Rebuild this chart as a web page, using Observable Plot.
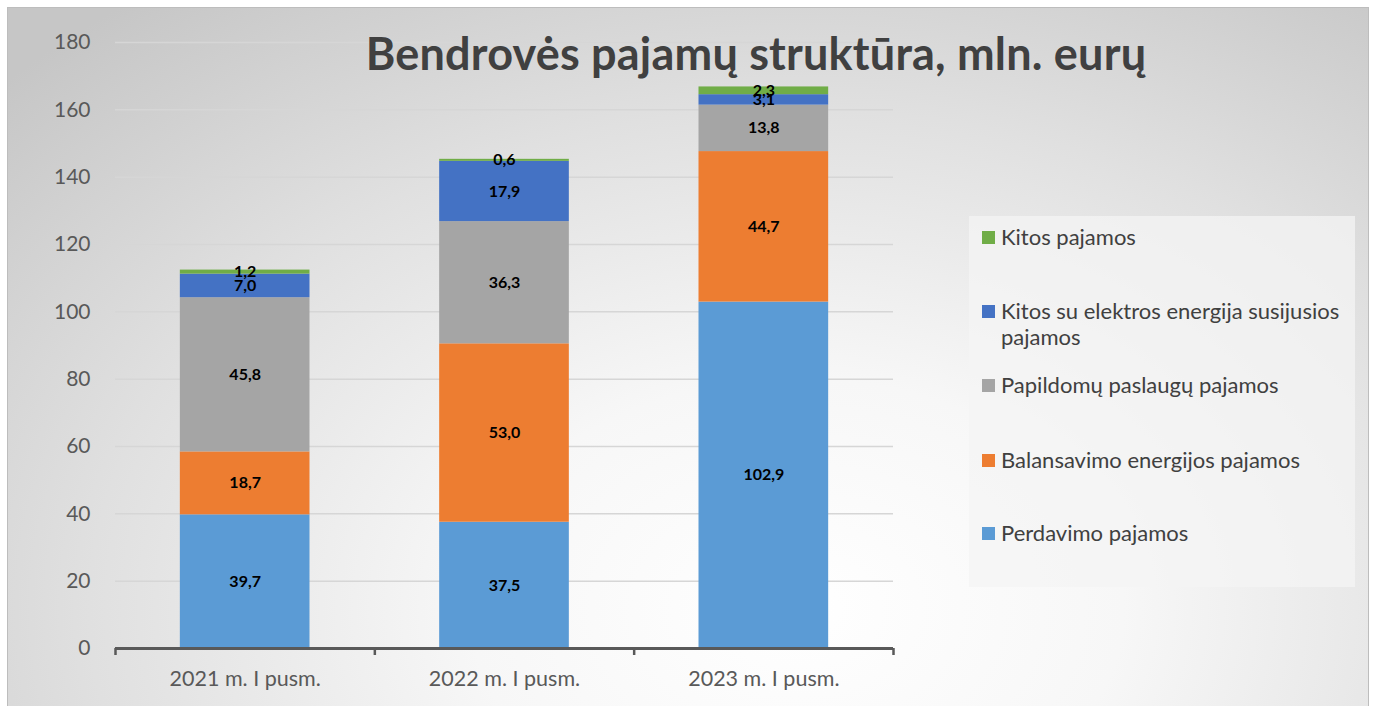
<!DOCTYPE html>
<html>
<head>
<meta charset="utf-8">
<script src="https://cdn.jsdelivr.net/npm/d3@7"></script>
<script src="https://cdn.jsdelivr.net/npm/@observablehq/plot@0.6"></script>
<style>
  html, body { margin: 0; padding: 0; background: #ffffff; }
  #wrap {
    position: absolute; left: 7px; top: 7px; width: 1360px; height: 699px;
    border: 1px solid #bdbdbd; border-bottom: none;
    background: radial-gradient(ellipse 80% 110% at 58% 86%, #ffffff 0%, #f7f7f7 30%, #e0e0e0 65%, #c6c6c6 100%);
    overflow: hidden;
    font-family: Lato, "Open Sans", sans-serif;
  }
  #chart { position: absolute; left: -8px; top: -8px; }
  #chart svg { max-width: none !important; }
  #title {
    position: absolute; left: 0; width: 1496px; top: 18px; text-align: center;
    font-size: 45px; font-weight: 700; color: #404040; letter-spacing: 0.2px;
  }
  #legend {
    position: absolute; left: 961px; top: 208px; width: 386px; height: 371px;
    background: rgba(244,244,244,0.75);
  }
  .li { position: absolute; left: 13px; font-size: 22px; color: #404040; line-height: 26px; }
  .li .sw { position: absolute; left: 0; top: 7px; width: 13px; height: 13px; }
  .li .tx { position: absolute; left: 19px; white-space: nowrap; }
</style>
</head>
<body>
<div id="wrap">
  <div id="chart"></div>
  <div id="title"></div>
  <div id="legend"></div>
</div>
<script>
const categories = ["2021 m. I pusm.", "2022 m. I pusm.", "2023 m. I pusm."];
const series = ["Perdavimo pajamos", "Balansavimo energijos pajamos", "Papildomų paslaugų pajamos", "Kitos su elektros energija susijusios pajamos", "Kitos pajamos"];
const colors = ["#5b9bd5", "#ed7d31", "#a5a5a5", "#4472c4", "#70ad47"];
const perdavimo   = [39.7, 37.5, 102.9];
const balansavimo = [18.7, 53.0, 44.7];
const papildomu   = [45.8, 36.3, 13.8];
const kitosElektr = [7.0, 17.9, 3.1];
const kitos       = [1.2, 0.6, 2.3];
const yTicks = [0, 20, 40, 60, 80, 100, 120, 140, 160, 180];
const titleText = "Bendrovės pajamų struktūra, mln. eurų";

const seriesValues = [perdavimo, balansavimo, papildomu, kitosElektr, kitos];
const data = [];
categories.forEach((c, i) => {
  seriesValues.forEach((vals, s) => {
    data.push({ i, x1: i + 0.25, x2: i + 0.75, xm: i + 0.5, category: c, series: series[s], value: vals[i] });
  });
});
const fmt = v => v.toFixed(1).replace(".", ",");

const plot = Plot.plot({
  width: 1375,
  height: 706,
  marginLeft: 115,
  marginRight: 482,
  marginTop: 42,
  marginBottom: 58,
  style: { background: "transparent", fontFamily: "Lato, 'Open Sans', sans-serif" },
  x: { domain: [0, categories.length], label: null },
  y: { domain: [0, 180], label: null },
  color: { domain: series, range: colors },
  marks: [
    Plot.ruleY(yTicks, { stroke: "#d6d6d6", strokeWidth: 1.5 }),
    Plot.rectY(data, Plot.stackY({ x1: "x1", x2: "x2", y: "value", z: "series", fill: "series" })),
    Plot.text(data, Plot.stackY({ x: "xm", y: "value", z: "series", text: d => fmt(d.value), fill: "#000", fontSize: 16, fontWeight: "bold" })),
    Plot.ruleY([0], { stroke: "#595959", strokeWidth: 3 }),
    Plot.axisX(d3.range(categories.length + 1), { tickSize: 7, stroke: "#595959", strokeWidth: 2.5, text: null, label: null }),
    Plot.axisX(categories.map((c, i) => i + 0.5), { tickSize: 0, tickPadding: 22, fontSize: 21.5, fill: "#595959", tickFormat: v => categories[Math.floor(v)], label: null }),
    Plot.axisY(yTicks, { tickSize: 0, tickPadding: 25, fontSize: 21, fill: "#595959", label: null })
  ]
});
document.getElementById("chart").appendChild(plot);
document.getElementById("title").textContent = titleText;

const legendTops = { 4: 8, 3: 82, 2: 156, 1: 231, 0: 304 };
const legend = document.getElementById("legend");
[4, 3, 2, 1, 0].forEach(s => {
  const li = document.createElement("div");
  li.className = "li";
  li.style.top = legendTops[s] + "px";
  const sw = document.createElement("div");
  sw.className = "sw";
  sw.style.background = colors[s];
  const tx = document.createElement("div");
  tx.className = "tx";
  if (s === 3) {
    tx.innerHTML = "Kitos su elektros energija susijusios<br>pajamos";
  } else {
    tx.textContent = series[s];
  }
  li.appendChild(sw);
  li.appendChild(tx);
  legend.appendChild(li);
});
</script>
</body>
</html>
